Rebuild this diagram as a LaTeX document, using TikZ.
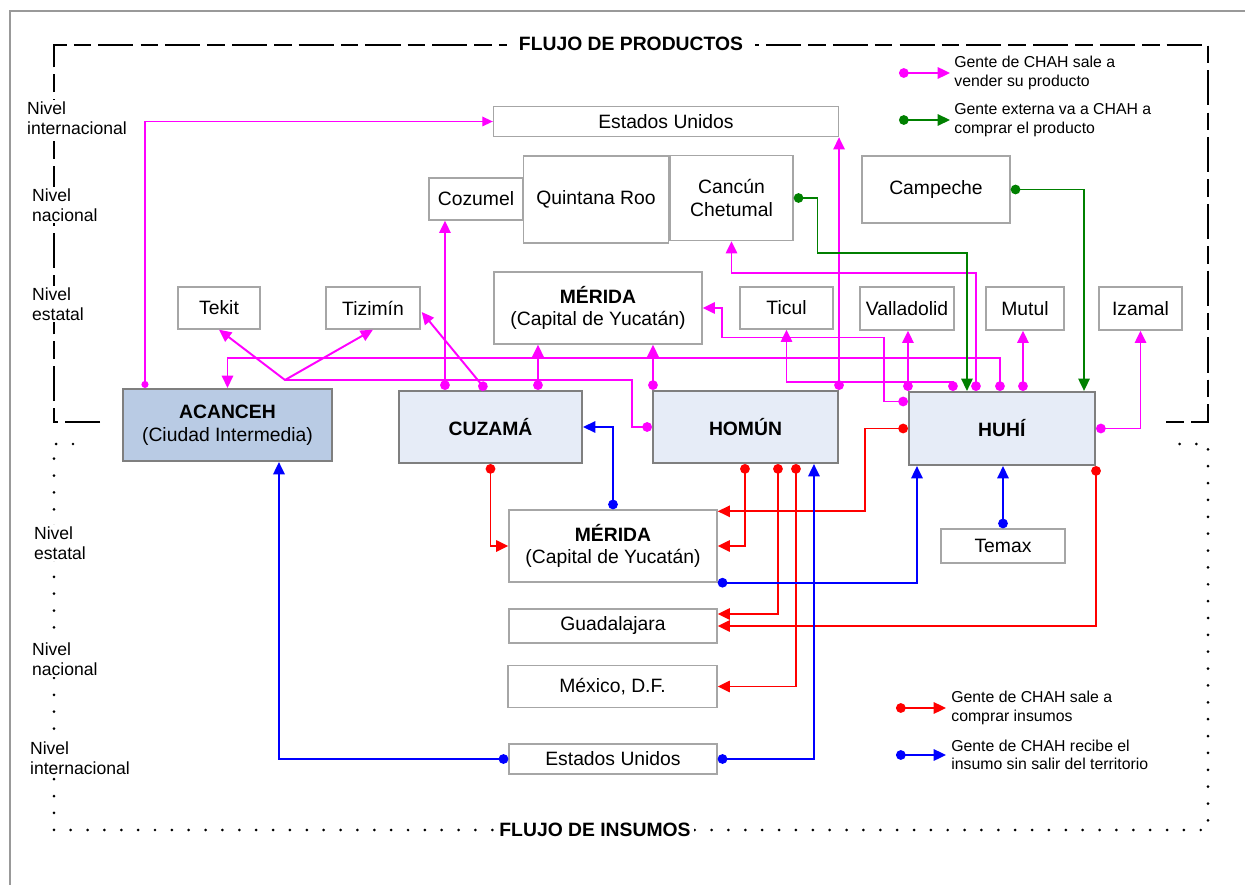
\documentclass[tikz,border=0pt]{standalone}
\usepackage{fontspec}
\setmainfont{Liberation Sans}
\usepackage{tikz}
\usetikzlibrary{arrows.meta,positioning,calc}
\definecolor{mag}{HTML}{FF00FF}
\definecolor{verde}{HTML}{008000}
\definecolor{rojo}{HTML}{FF0000}
\definecolor{azul}{HTML}{0000FF}
\definecolor{boxgray}{HTML}{A6A6A6}
\definecolor{mungray}{HTML}{7F7F7F}
\definecolor{munfill}{HTML}{E6ECF7}
\definecolor{acanfill}{HTML}{B9CBE4}
\tikzstyle{loc}=[rectangle, draw=boxgray, line width=0.8pt, fill=white, inner sep=0pt,
align=center, font=\fontsize{11}{13}\selectfont]
\tikzstyle{mun}=[loc, draw=mungray, line width=1.2pt, fill=munfill]
\tikzstyle{acan}=[mun, fill=acanfill]
\tikzstyle{venta}=[draw=mag, line width=1.1pt, {Circle[length=5.5pt]}-{Triangle[length=7pt,width=6.5pt]}]
\tikzstyle{ventafina}=[venta, line width=0.7pt, {Circle[length=4pt]}-{Triangle[length=6pt,width=5.5pt]}]
\tikzstyle{externa}=[venta, draw=verde, line width=0.9pt]
\tikzstyle{compra}=[venta, draw=rojo]
\tikzstyle{recibe}=[venta, draw=azul]
\tikzstyle{marcoprod}=[line width=1.2pt, dash pattern=on 20pt off 4pt on 10pt off 4pt]
\tikzstyle{marcoins}=[line width=1.7pt, line cap=round, dash pattern=on 0pt off 9.6pt]
\tikzstyle{titulo}=[fill=white, inner ysep=2pt, font=\fontsize{11}{13}\selectfont\bfseries]
\tikzstyle{nivel}=[fill=white, align=left, inner sep=1pt, anchor=west, font=\fontsize{10}{11.5}\selectfont]
\tikzstyle{leyenda}=[align=left, anchor=west, inner sep=0pt, font=\fontsize{9}{10.5}\selectfont]

\begin{document}
\begin{tikzpicture}[x=0.02cm,y=-0.02cm]
\useasboundingbox (0,0) rectangle (1245,885);
\draw[black!40, line width=1.3pt] (10,885) -- (10,11) -- (1245,11);
% marcos
\draw[marcoprod] (100,422) -- (54,422) -- (54,45) -- (1208,45) -- (1208,422) -- (1164,422);
\draw[marcoins] (73,444) -- (54,444) -- (54,830) -- (1208,830) -- (1208,444) -- (1169,444);
\node[titulo, inner xsep=7pt] (fprod) at (631,44) {FLUJO DE PRODUCTOS};
\node[titulo, inner xsep=2pt] (fins) at (595,830) {FLUJO DE INSUMOS};
\node[nivel] (ni1) at (25,118) {Nivel\\internacional};
\node[nivel] (nn1) at (30,205) {Nivel\\nacional};
\node[nivel] (ne1) at (30,304) {Nivel\\estatal};
\node[nivel] (ne2) at (32,543) {Nivel\\estatal};
\node[nivel] (nn2) at (30,659) {Nivel\\nacional};
\node[nivel] (ni2) at (28,758) {Nivel\\internacional};

% destinos del producto
\node[loc, minimum width=6.9cm, minimum height=0.6cm] (eua) at (666,121.5) {Estados Unidos};
\node[loc, minimum width=1.88cm, minimum height=0.84cm] (coz) at (476,199) {Cozumel};
\node[loc, minimum width=2.9cm, minimum height=1.74cm] (qroo) at (596,199.5) {Quintana Roo};
\node[loc, minimum width=2.46cm, minimum height=1.7cm] (cancun) at (731.5,198) {Cancún\\Chetumal};
\node[loc, minimum width=2.96cm, minimum height=1.34cm] (camp) at (936,189.5) {Campeche};
\node[loc, minimum width=1.64cm, minimum height=0.84cm] (tekit) at (219,308) {Tekit};
\node[loc, minimum width=1.88cm, minimum height=0.84cm] (tizimin) at (373,308) {Tizimín};
\node[loc, minimum width=4.16cm, minimum height=1.44cm] (meridaA) at (598,308) {\textbf{MÉRIDA}\\(Capital de Yucatán)};
\node[loc, minimum width=1.86cm, minimum height=0.84cm] (ticul) at (786.5,308) {Ticul};
\node[loc, minimum width=1.88cm, minimum height=0.86cm] (valla) at (907,308.5) {Valladolid};
\node[loc, minimum width=1.56cm, minimum height=0.86cm] (mutul) at (1025,308.5) {Mutul};
\node[loc, minimum width=1.66cm, minimum height=0.86cm] (izamal) at (1140.5,308.5) {Izamal};

% municipios
\node[acan, minimum width=4.18cm, minimum height=1.44cm] (acanceh) at (227.5,425) {\textbf{ACANCEH}\\(Ciudad Intermedia)};
\node[mun, minimum width=3.66cm, minimum height=1.44cm] (cuzama) at (490.5,427) {\textbf{CUZAMÁ}};
\node[mun, minimum width=3.7cm, minimum height=1.44cm] (homun) at (745.5,427) {\textbf{HOMÚN}};
\node[mun, minimum width=3.72cm, minimum height=1.46cm] (huhi) at (1002,428.5) {\textbf{HUHÍ}};

% origen de insumos
\node[loc, minimum width=4.16cm, minimum height=1.44cm] (meridaB) at (613,546) {\textbf{MÉRIDA}\\(Capital de Yucatán)};
\node[loc, minimum width=2.48cm, minimum height=0.68cm] (temax) at (1003,546) {Temax};
\node[loc, minimum width=4.16cm, minimum height=0.68cm] (guad) at (613,626) {Guadalajara};
\node[loc, minimum width=4.18cm, minimum height=0.84cm] (mexico) at (612.5,686.5) {México, D.F.};
\node[loc, minimum width=4.16cm, minimum height=0.6cm] (eub) at (613,759) {Estados Unidos};

% flujo de productos
\draw[ventafina] ($(acanceh.north west)+(23,0)$) |- (eua.west);
\coordinate (jt) at (285,380);
\draw[venta] (homun.west) -- ++(-20,0) |- (jt) -- (tekit.south);
\draw[venta, -{Triangle[length=7pt,width=6.5pt]}] (jt) -- (tizimin.south);
\draw[venta] ($(huhi.north west)+(92,0)$) |- ($(acanceh.north)+(0,-30)$) -- (acanceh.north);
\draw[venta] ($(cuzama.north west)+(47,0)$) coordinate (c1) -- (c1 |- coz.south);
\draw[venta] ($(cuzama.north west)+(88,0)$) -- ($(tizimin.east)+(1,4)$);
\draw[venta] ($(cuzama.north west)+(140,0)$) coordinate (c3) -- (c3 |- meridaA.south);
\draw[venta] ($(homun.north west)+(1,0)$) coordinate (h1) -- (h1 |- meridaA.south);
\draw[venta] (homun.north east) -- (homun.north east |- eua.south);
\draw[venta] ($(huhi.west)+(0,-27)$) -- ++(-24,0) -- ++(0,-64) -- ++(-162,0) |- (meridaA.east);
\draw[venta] ($(huhi.north west)+(45,0)$) |- ($(ticul.south)+(0,52)$) -- (ticul.south);
\draw[venta] ($(huhi.north west)+(68,0)$) |- ($(cancun.south)+(0,32)$) -- (cancun.south);
\draw[venta] (huhi.north west) -- (huhi.north west |- valla.south);
\draw[venta] ($(huhi.north west)+(115,0)$) coordinate (h5) -- (h5 |- mutul.south);
\draw[venta] (huhi.east) -| (izamal.south);
\draw[externa] (cancun.east) -- ++(24,0) -- ++(0,55) -| ($(huhi.north west)+(59,0)$);
\draw[externa] (camp.east) -| ($(huhi.north east)+(-12,0)$);

% flujo de insumos
\draw[compra] (cuzama.south) |- (meridaB.west);
\draw[compra] ($(homun.south west)+(93,0)$) |- (meridaB.east);
\draw[compra] ($(homun.south west)+(126,0)$) |- ($(guad.east)+(0,-12)$);
\draw[compra] ($(homun.south west)+(144,0)$) |- (mexico.east);
\draw[compra] (huhi.west) -- ++(-43,0) |- ($(meridaB.north east)+(0,2)$);
\draw[compra] (huhi.south east) |- (guad.east);
\draw[recibe] (eub.west) -| ($(acanceh.south west)+(157,0)$);
\draw[recibe] (eub.east) -| ($(homun.south west)+(162,0)$);
\draw[recibe] (meridaB.north) |- (cuzama.east);
\draw[recibe] (meridaB.south east) -| ($(huhi.south west)+(9,0)$);
\draw[recibe] (temax.north) -- (temax.north |- huhi.south);

% leyendas
\node[leyenda] (lv) at (954,73) {Gente de CHAH sale a\\vender su producto};
\draw[venta] ($(lv.west)+(-55,0)$) -- ($(lv.west)+(-4,0)$);
\node[leyenda] (le) at (954,120) {Gente externa va a CHAH a\\comprar el producto};
\draw[externa] ($(le.west)+(-55,0)$) -- ($(le.west)+(-4,0)$);
\node[leyenda] (lc) at (951,708) {Gente de CHAH sale a\\comprar insumos};
\draw[compra] ($(lc.west)+(-55,0)$) -- ($(lc.west)+(-5,0)$);
\node[leyenda] (lr) at (951,755) {Gente de CHAH recibe el\\insumo sin salir del territorio};
\draw[recibe] ($(lr.west)+(-55,0)$) -- ($(lr.west)+(-5,0)$);
\end{tikzpicture}
\end{document}
